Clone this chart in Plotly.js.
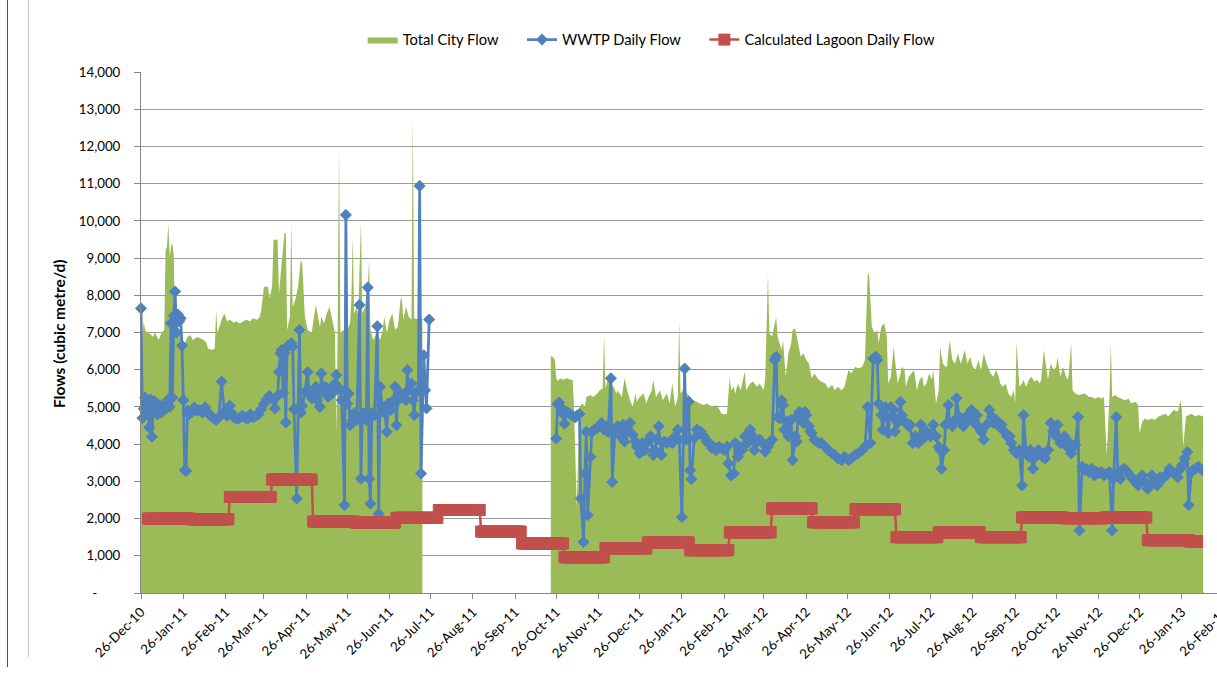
<!DOCTYPE html>
<html>
<head>
<meta charset="utf-8">
<script src="https://cdn.plot.ly/plotly-3.0.1.min.js"></script>
<style>
  html, body { margin: 0; padding: 0; background: #fff; overflow: hidden; width: 1217px; height: 675px; }
  #chart { position: absolute; left: 0; top: 0; width: 1260px; height: 675px; }
  .frame { position: absolute; top: 0; }
</style>
</head>
<body>
<div id="chart"></div>
<div class="frame" style="left:7px; width:1px; height:667px; background:#555;"></div>
<div class="frame" style="left:28px; width:1px; height:657px; background:#c8c8c8;"></div>
<script>
// ---------------- DATA (day = days after 26-Dec-2010) ----------------
const seriesNames = ["Total City Flow", "WWTP Daily Flow", "Calculated Lagoon Daily Flow"];

// Total City Flow, first block [day, m3/d]
const cityFlowA = [
[0,7150],[1,6900],[2,7300],[3,7070],[5,6990],[7,6950],[9,6880],[10,7010],[13,6800],[15,6990],[17,7070],[18,9220],[19,9300],[20,9940],[21,9040],[22,9310],[23,9400],[24,9040],[25,6990],[27,7070],[30,6800],[32,6710],[34,6880],[36,6930],[38,6800],[41,6880],[43,6850],[46,6800],[48,6710],[49,6570],[52,6530],[54,6570],[55,7600],[56,6990],[59,7340],[61,7510],[63,7300],[65,7340],[68,7260],[70,7300],[72,7240],[75,7300],[77,7340],[80,7300],[82,7380],[85,7340],[87,7420],[88,7600],[90,8230],[93,8230],[94,7920],[96,8230],[97,9490],[99,9490],[100,9490],[101,8050],[103,8950],[105,9670],[106,9670],[107,7070],[109,7420],[110,9940],[111,7690],[113,7870],[115,8230],[117,8950],[118,8860],[120,7420],[122,7070],[125,6990],[127,7510],[128,7740],[131,7150],[132,7420],[134,7240],[136,7510],[138,7690],[140,7340],[142,6990],[143,4300],[144,7150],[145,12000],[146,6990],[148,7070],[150,6990],[153,7240],[154,7870],[155,9580],[156,7510],[158,7690],[159,7420],[161,9980],[162,7510],[164,7690],[166,8230],[167,8950],[168,7070],[170,6800],[173,6990],[175,6800],[177,7070],[178,7420],[180,6990],[182,7340],[184,7510],[186,7070],[188,7150],[190,7870],[191,7920],[192,7340],[194,7690],[196,7420],[198,7340],[199,12810],[200,7380],[203,7350],[206,7370]
];
// Total City Flow, second block
const cityFlowB = [
[300,6370],[302,6330],[303,6260],[304,5770],[305,5700],[307,5770],[309,5730],[312,5770],[314,5730],[316,5730],[317,5000],[319,2310],[321,5000],[323,5090],[325,5000],[326,5270],[329,5320],[331,5270],[334,5360],[336,5450],[338,5500],[339,6910],[340,5500],[342,5770],[344,5630],[346,5540],[348,5360],[349,5450],[352,5270],[354,5770],[356,5450],[358,5180],[360,5000],[362,5360],[363,5140],[365,5270],[368,5360],[370,5090],[371,5220],[374,5450],[375,5730],[377,5270],[380,5450],[382,5180],[385,5360],[387,5090],[389,5630],[391,5000],[393,5270],[394,7340],[395,5360],[397,5450],[399,5400],[402,5270],[404,5180],[407,5140],[409,5090],[412,5050],[414,5090],[416,5050],[419,5000],[421,5050],[423,4960],[425,4820],[427,4800],[429,4820],[431,5810],[432,5450],[434,5540],[435,5360],[437,5630],[439,5450],[441,5730],[442,5950],[443,5450],[446,5630],[448,5680],[451,5540],[453,5630],[456,5450],[457,5810],[459,8550],[460,6980],[462,6890],[463,7070],[465,7420],[466,6890],[468,6620],[469,6530],[470,6800],[472,5810],[474,6440],[476,6710],[477,7070],[479,7110],[481,6710],[483,6350],[485,6440],[487,6260],[489,6170],[491,5770],[493,5900],[496,5730],[498,5680],[501,5630],[503,5500],[506,5590],[508,5450],[510,5540],[513,5450],[515,5540],[518,5990],[520,5900],[523,6080],[525,6030],[528,6080],[530,6260],[532,8550],[533,8590],[535,7160],[537,6980],[539,7070],[540,6710],[542,7160],[544,7250],[546,6890],[547,5630],[549,5810],[551,6620],[552,6260],[554,5630],[556,5900],[557,6080],[559,5990],[560,5540],[562,5810],[564,5900],[566,5990],[568,5450],[570,5730],[572,5810],[573,5540],[575,5630],[577,5900],[579,5730],[580,5990],[582,5090],[584,5450],[585,6620],[587,6170],[589,6080],[590,6080],[592,6800],[594,6260],[596,6170],[598,6440],[600,6170],[601,6260],[603,6530],[605,6170],[607,6350],[609,6080],[611,5990],[613,6260],[615,5990],[617,6440],[619,6170],[620,6080],[622,5900],[624,5810],[626,5990],[628,5810],[629,5630],[631,5540],[633,5630],[635,5360],[637,5270],[639,5450],[640,5090],[641,6750],[643,5540],[645,5630],[646,5730],[648,5540],[650,5730],[652,5810],[654,5680],[656,5730],[658,5630],[659,5730],[661,6530],[662,6260],[664,5730],[666,6170],[668,5990],[670,6080],[671,6350],[673,5810],[675,6080],[678,5730],[679,5810],[681,6710],[682,5450],[684,5360],[686,5320],[689,5340],[691,5360],[694,5270],[696,5270],[698,5220],[701,5270],[703,5220],[705,5270],[707,3700],[709,5270],[710,6710],[711,5270],[713,5320],[715,5270],[718,5220],[720,5180],[723,5220],[725,5090],[728,5140],[730,5050],[731,4290],[733,4600],[735,4690],[737,4650],[740,4690],[742,4650],[745,4740],[747,4780],[750,4820],[752,4740],[754,4820],[756,4920],[759,4870],[761,5180],[762,4920],[763,3920],[765,4740],[767,4780],[769,4820],[772,4740],[774,4780],[778,4740]
];
// WWTP Daily Flow, first block
const wwtpFlowA = [
[0,7650],[1,4700],[2,4950],[3,5250],[4,4850],[5,5100],[6,4450],[7,5200],[8,4200],[9,4950],[10,5150],[11,4900],[12,4800],[13,5000],[14,5050],[15,4850],[16,4950],[17,5050],[18,4950],[19,5100],[20,5200],[21,5000],[22,7250],[23,5250],[24,7450],[25,8100],[26,7000],[27,7480],[28,7300],[29,7380],[30,6650],[31,5180],[32,3300],[33,3280],[34,4900],[35,4800],[37,4850],[39,4990],[41,4900],[43,4920],[45,4850],[47,4990],[49,4850],[51,4760],[53,4700],[55,4650],[57,4720],[59,5680],[61,4870],[63,4760],[65,5030],[66,4850],[68,4720],[70,4680],[72,4700],[74,4760],[76,4720],[78,4680],[80,4800],[82,4720],[84,4760],[86,4800],[88,4940],[90,5080],[92,5200],[94,5300],[96,5220],[98,4960],[100,5300],[101,5940],[102,6440],[103,6530],[104,5380],[105,6440],[106,4580],[107,6620],[108,6650],[109,6680],[110,6710],[111,6620],[112,4940],[114,2540],[115,4960],[116,7070],[117,4850],[118,5030],[120,5400],[122,5940],[123,5400],[125,5230],[127,5360],[128,5540],[129,5180],[131,5000],[132,5900],[133,5450],[135,5540],[136,5360],[137,5270],[138,5450],[140,5360],[141,5540],[142,5630],[143,5860],[144,5540],[146,5450],[147,5180],[149,2360],[150,10160],[151,5090],[152,5360],[153,4510],[155,4650],[156,4830],[158,4650],[160,7740],[161,3070],[162,4740],[163,4830],[165,4650],[166,8210],[167,3070],[168,2400],[169,4830],[171,4780],[173,7170],[174,2130],[175,5540],[177,4870],[178,5000],[180,4330],[181,5090],[183,4920],[185,5180],[186,5540],[187,4510],[188,5180],[190,5360],[191,5270],[193,5360],[194,5180],[195,5990],[196,5450],[198,5630],[199,5180],[200,4780],[201,5360],[203,5450],[204,10940],[205,3210],[207,6390],[208,5450],[209,4960],[211,7350]
];
// WWTP Daily Flow, second block
const wwtpFlowB = [
[304,4150],[305,5070],[306,5120],[307,5000],[309,4810],[310,4550],[312,4870],[314,4810],[316,4760],[318,4720],[319,4760],[321,4810],[322,2540],[324,1370],[325,3210],[326,4330],[327,2090],[329,3660],[330,4330],[332,4390],[334,4430],[336,4480],[337,4570],[339,4390],[341,4480],[342,4330],[344,5770],[345,2980],[347,4390],[349,4480],[351,4210],[353,4520],[354,4070],[356,4330],[358,4570],[360,4250],[362,4070],[363,3930],[365,3750],[367,4030],[369,3840],[371,4070],[373,4210],[375,3710],[376,3840],[378,4120],[379,4480],[381,3710],[383,4070],[385,4030],[387,4070],[389,4030],[391,4210],[393,4390],[394,4120],[396,2040],[398,6030],[399,4120],[401,5140],[402,3300],[403,3060],[405,4160],[407,4390],[409,4300],[410,4330],[412,4210],[414,4070],[416,4030],[418,3890],[419,3930],[421,3840],[423,3930],[425,3890],[427,3840],[429,3930],[430,3480],[432,3160],[434,3210],[435,4030],[437,3660],[438,3930],[440,3840],[442,4210],[444,4030],[446,4390],[447,4250],[449,3840],[451,4070],[453,4120],[455,4030],[457,3800],[459,3930],[460,4030],[462,4120],[464,6260],[465,6350],[466,4730],[468,4690],[469,5180],[470,5050],[471,4390],[473,4610],[474,4210],[476,4650],[477,3570],[479,4210],[480,4070],[481,4780],[482,4870],[484,4650],[485,4570],[486,4870],[487,4780],[489,4480],[490,4340],[491,4300],[493,4120],[496,4030],[498,4030],[501,3930],[503,3840],[506,3750],[508,3710],[510,3620],[513,3570],[515,3660],[518,3570],[520,3620],[523,3710],[525,3750],[528,3840],[530,3930],[532,5000],[534,4030],[536,6300],[538,6350],[539,6260],[540,5090],[542,4780],[543,4390],[545,5000],[546,4740],[547,4300],[549,5000],[550,4740],[551,4920],[552,4340],[554,4570],[556,5140],[557,4780],[558,4650],[560,4570],[562,4480],[563,4520],[565,4030],[567,4210],[569,4030],[571,4520],[573,4160],[575,4340],[576,4250],[578,4210],[580,4520],[582,4210],[584,3930],[585,3840],[586,3340],[588,3840],[589,4520],[591,5050],[592,4570],[594,4480],[596,4650],[597,5230],[599,4740],[601,4570],[602,4480],[604,4740],[606,4650],[608,4920],[610,4570],[612,4780],[614,4430],[615,4340],[617,4120],[619,4520],[621,4920],[623,4740],[624,4570],[626,4650],[628,4480],[630,4520],[632,4340],[634,4210],[636,4210],[637,4030],[639,3840],[641,3750],[643,3840],[645,2890],[646,4780],[648,3750],[650,3660],[651,3840],[653,3340],[655,3660],[657,3840],[659,3750],[660,3660],[662,3620],[664,3840],[666,4570],[668,4340],[670,4210],[671,4520],[673,4030],[675,4120],[676,4210],[678,3930],[680,4030],[681,3750],[683,3930],[684,3980],[686,4730],[687,1680],[689,3390],[691,3300],[692,3340],[694,3250],[696,3340],[698,3160],[700,3250],[701,3210],[703,3250],[705,3160],[707,3210],[709,3250],[711,1680],[712,3070],[714,4730],[715,3250],[717,3070],[718,3300],[720,3340],[722,3250],[724,3160],[726,3070],[728,2980],[730,2890],[731,3070],[733,3160],[735,2980],[737,2800],[739,2930],[740,3160],[742,2980],[744,2890],[746,3110],[748,3070],[750,3160],[752,3210],[753,3340],[755,3250],[757,3210],[759,3110],[761,3340],[762,3430],[764,3620],[766,3790],[767,2360],[769,3250],[770,3300],[772,3340],[774,3390],[777,3300]
];
// Calculated Lagoon Daily Flow: one constant value per calendar month
const lagoonMonths = ["2010-12","2011-01","2011-02","2011-03","2011-04","2011-05","2011-06","2011-07","2011-08","2011-09","2011-10","2011-11","2011-12","2012-01","2012-02","2012-03","2012-04","2012-05","2012-06","2012-07","2012-08","2012-09","2012-10","2012-11","2012-12","2013-01","2013-02"];
const lagoonFlow   = [2000,2000,1980,2580,3050,1920,1890,2020,2230,1650,1330,960,1200,1360,1150,1630,2270,1900,2250,1500,1630,1500,2030,2010,2030,1420,1380];
const lagoonFirstDay = 5, lagoonLastDay = 780;

// Axis ticks
const xTickDates = ["2010-12-26","2011-01-26","2011-02-26","2011-03-26","2011-04-26","2011-05-26","2011-06-26","2011-07-26","2011-08-26","2011-09-26","2011-10-26","2011-11-26","2011-12-26","2012-01-26","2012-02-26","2012-03-26","2012-04-26","2012-05-26","2012-06-26","2012-07-26","2012-08-26","2012-09-26","2012-10-26","2012-11-26","2012-12-26","2013-01-26","2013-02-26"];
const xTickLabels = ["26-Dec-10","26-Jan-11","26-Feb-11","26-Mar-11","26-Apr-11","26-May-11","26-Jun-11","26-Jul-11","26-Aug-11","26-Sep-11","26-Oct-11","26-Nov-11","26-Dec-11","26-Jan-12","26-Feb-12","26-Mar-12","26-Apr-12","26-May-12","26-Jun-12","26-Jul-12","26-Aug-12","26-Sep-12","26-Oct-12","26-Nov-12","26-Dec-12","26-Jan-13","26-Feb-13"];
const yTickVals = [0,1000,2000,3000,4000,5000,6000,7000,8000,9000,10000,11000,12000,13000,14000];
const yTickLabels = ["-\u2007\u2007\u2007","1,000","2,000","3,000","4,000","5,000","6,000","7,000","8,000","9,000","10,000","11,000","12,000","13,000","14,000"];
const yTitle = "Flows (cubic metre/d)";

// ---------------- helpers ----------------
const BASE = Date.UTC(2010, 11, 26);
function dayToDate(d) { return new Date(BASE + d * 86400000).toISOString().slice(0, 10); }
function xs(arr) { return arr.map(p => dayToDate(p[0])); }
function ys(arr) { return arr.map(p => p[1]); }

const lagX = [], lagY = [];
for (let d = lagoonFirstDay; d <= lagoonLastDay; d++) {
  const ds = dayToDate(d);
  const idx = lagoonMonths.indexOf(ds.slice(0, 7));
  lagX.push(ds); lagY.push(lagoonFlow[idx]);
}

const GREEN = "#9BBB59", BLUE = "#4F81BD", RED = "#C0504D";
const pad = "\u00a0\u00a0\u00a0\u00a0\u00a0";

const traces = [
  { x: xs(cityFlowA), y: ys(cityFlowA), type: "scatter", mode: "lines", fill: "tozeroy",
    fillcolor: GREEN, line: { width: 0, color: GREEN }, name: seriesNames[0] + pad, legendgroup: "city", hoverinfo: "skip" },
  { x: xs(cityFlowB), y: ys(cityFlowB), type: "scatter", mode: "lines", fill: "tozeroy",
    fillcolor: GREEN, line: { width: 0, color: GREEN }, name: seriesNames[0], legendgroup: "city", showlegend: false },
  { x: xs(wwtpFlowA).concat([dayToDate(250)], xs(wwtpFlowB)),
    y: ys(wwtpFlowA).concat([null], ys(wwtpFlowB)),
    type: "scatter", mode: "lines+markers", name: seriesNames[1] + pad, cliponaxis: false,
    line: { color: BLUE, width: 2.75 },
    marker: { symbol: "diamond", size: 8.5, color: BLUE, line: { color: BLUE, width: 1 } } },
  { x: lagX, y: lagY, type: "scatter", mode: "lines+markers", name: seriesNames[2], cliponaxis: false,
    line: { color: RED, width: 2.5 },
    marker: { symbol: "square", size: 11, color: RED, line: { color: RED, width: 1 } } }
];

const layout = {
  width: 1260, height: 675,
  margin: { l: 141, r: 19, t: 72, b: 82, pad: 0 },
  paper_bgcolor: "#fff", plot_bgcolor: "#fff",
  font: { family: "Lato, Carlito, 'Open Sans', sans-serif", size: 13, color: "#000" },
  showlegend: true,
  legend: { orientation: "h", x: 0.2015, xanchor: "left", y: 1.093, yanchor: "top",
            font: { size: 14.7, color: "#000" }, bgcolor: "rgba(0,0,0,0)", traceorder: "normal" },
  xaxis: {
    type: "date", range: ["2010-12-26", "2013-03-10 07:12"],
    tickmode: "array", tickvals: xTickDates, ticktext: xTickLabels, tickangle: -45,
    showgrid: false, zeroline: false, showline: true, linecolor: "#868686", linewidth: 1,
    ticks: "outside", ticklen: 5, tickcolor: "#868686", tickfont: { size: 13.3, color: "#000" }
  },
  yaxis: {
    range: [0, 14000], tickmode: "array", tickvals: yTickVals, ticktext: yTickLabels,
    showgrid: true, gridcolor: "#9a9a9a", gridwidth: 1, zeroline: false,
    showline: true, linecolor: "#868686", linewidth: 1,
    ticks: "outside", ticklen: 6, tickcolor: "#868686", ticklabelstandoff: 11,
    tickfont: { size: 13.3, color: "#000" }
  },
  shapes: [
    { type: "rect", xref: "x", yref: "paper", x0: "2013-02-10 14:00", x1: "2013-03-12", y0: 0.003, y1: 1.02,
      fillcolor: "#fff", line: { width: 0 }, layer: "above" }
  ],
  annotations: [
    { text: yTitle, xref: "paper", yref: "paper", x: 0, xshift: -82, y: 0.497, xanchor: "center", yanchor: "middle",
      textangle: -90, showarrow: false, font: { size: 15.5, color: "#000", weight: "bold" } }
  ]
};

Plotly.newPlot("chart", traces, layout, { displayModeBar: false, staticPlot: true });
</script>
</body>
</html>
